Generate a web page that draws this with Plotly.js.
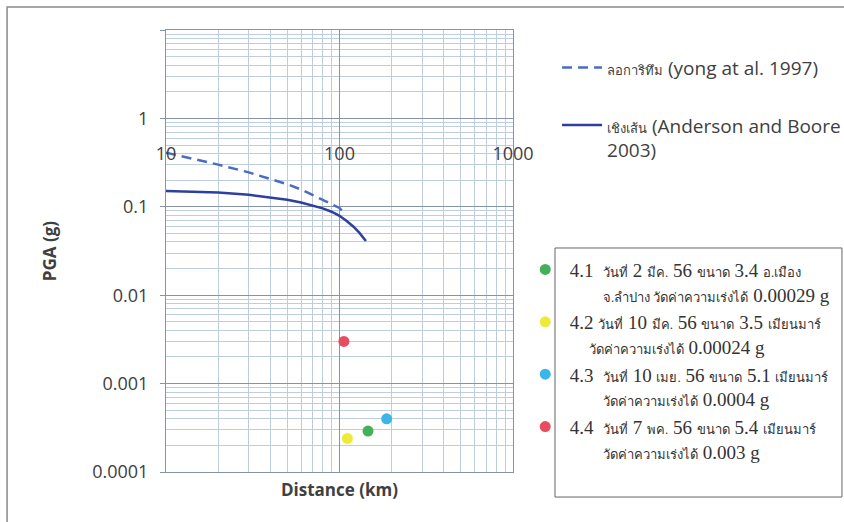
<!DOCTYPE html>
<html>
<head>
<meta charset="utf-8">
<script src="https://cdn.plot.ly/plotly-3.0.1.min.js"></script>
<style>html,body{margin:0;padding:0;background:#fff;}</style>
</head>
<body>
<div id="chart" style="width:844px;height:522px;"></div>
<script>
// Logarithmic model (Yong et al. 1997)
const logDist = [10, 15, 20, 30, 40, 50, 60, 70, 80, 90, 100, 105];
const logPGA  = [0.41, 0.345, 0.30, 0.245, 0.205, 0.18, 0.157, 0.137, 0.12, 0.107, 0.097, 0.088];
// Linear model (Anderson and Boore 2003)
const linDist = [10, 15, 20, 30, 40, 50, 60, 70, 80, 90, 100, 110, 120, 130, 142];
const linPGA  = [0.151, 0.148, 0.145, 0.137, 0.128, 0.120, 0.112, 0.104, 0.096, 0.088, 0.079, 0.069, 0.060, 0.051, 0.041];
// Recorded events
const eventNames = [
  "4.1&nbsp;&nbsp;วันที่ 2 มีค. 56 ขนาด 3.4 อ.เมือง<br>&nbsp;&nbsp;&nbsp;&nbsp;&nbsp;&nbsp;&nbsp;จ.ลำปาง วัดค่าความเร่งได้ 0.00029 g",
  "4.2 วันที่ 10 มีค. 56 ขนาด 3.5 เมียนมาร์<br>&nbsp;&nbsp;&nbsp;&nbsp;วัดค่าความเร่งได้ 0.00024 g",
  "4.3&nbsp;&nbsp;วันที่ 10 เมย. 56 ขนาด 5.1 เมียนมาร์<br>&nbsp;&nbsp;&nbsp;&nbsp;&nbsp;&nbsp;&nbsp;วัดค่าความเร่งได้ 0.0004 g",
  "4.4&nbsp;&nbsp;วันที่ 7 พค. 56 ขนาด 5.4 เมียนมาร์<br>&nbsp;&nbsp;&nbsp;&nbsp;&nbsp;&nbsp;&nbsp;วัดค่าความเร่งได้ 0.003 g"
];
const eventDist = [146, 111, 187, 106];
const eventPGA  = [0.00029, 0.00024, 0.0004, 0.003];
const eventColors = ["#45b05a", "#eeea3a", "#3bb6e6", "#e64e60"];
// Axis ticks
const xTicks = [10, 100, 1000];
const xTickText = ["10", "100", "1000"];
const yTicks = [0.0001, 0.001, 0.01, 0.1, 1, 10];
const yTickText = ["0.0001", "0.001", "0.01", "0.1", "1", ""];

// render Thai runs smaller than the Latin text, as in the source
function thaiSmall(s, px) {
  return s.replace(/([\u0E00-\u0E7F][\u0E00-\u0E7F .]*[\u0E00-\u0E7F.]|[\u0E00-\u0E7F])/g,
    "<span style='font-size:" + px + "px'>$1</span>");
}

const traces = [
  {
    x: logDist, y: logPGA, mode: "lines", type: "scatter",
    name: thaiSmall("ลอการิทึม", 13) + " (yong at al. 1997)",
    line: {color: "#4a6cc2", width: 2.5, dash: "10px,6px"},
    legend: "legend", legendgroup: "a"
  },
  {
    x: linDist, y: linPGA, mode: "lines", type: "scatter",
    name: thaiSmall("เชิงเส้น", 13) + " (Anderson and Boore<br>2003)",
    line: {color: "#2f3f9e", width: 2.5},
    legend: "legend", legendgroup: "b"
  }
];
for (let i = 0; i < eventNames.length; i++) {
  traces.push({
    x: [eventDist[i]], y: [eventPGA[i]], mode: "markers", type: "scatter",
    name: thaiSmall(eventNames[i], 13),
    marker: {color: eventColors[i], size: 11},
    legend: "legend2", xaxis: "x2", yaxis: "y"
  });
}

const majorGrid = "#8794a8";
const minorGrid = "#bfcde0";

const layout = {
  width: 844, height: 522,
  margin: {l: 166, r: 331, t: 30, b: 50, autoexpand: false},
  paper_bgcolor: "#ffffff", plot_bgcolor: "#ffffff",
  font: {family: "Open Sans, sans-serif", color: "#404040"},
  showlegend: true,
  xaxis: {
    type: "log", range: [1, 3],
    tickmode: "array", tickvals: xTicks, showticklabels: false, ticks: "",
    showgrid: true, gridcolor: majorGrid, gridwidth: 1,
    minor: {dtick: "D1", showgrid: true, gridcolor: minorGrid, gridwidth: 1, ticks: ""},
    showline: true, mirror: true, linecolor: majorGrid, linewidth: 1,
    zeroline: false,
    title: {text: "<b>Distance (km)</b>", font: {size: 17, color: "#404040"}, standoff: 12}
  },
  xaxis2: {
    type: "log", range: [1, 3], overlaying: "x", anchor: "free", position: 0.75,
    tickmode: "array", tickvals: xTicks, ticktext: xTickText,
    tickfont: {size: 18, color: "#404040"},
    showgrid: false, showline: false, ticks: "", zeroline: false
  },
  yaxis: {
    type: "log", range: [-4, 1],
    tickmode: "array", tickvals: yTicks, ticktext: yTickText,
    tickfont: {size: 18, color: "#404040"},
    ticks: "outside", ticklen: 5, tickcolor: majorGrid, ticklabelstandoff: 8,
    showgrid: true, gridcolor: majorGrid, gridwidth: 1,
    minor: {dtick: "D1", showgrid: true, gridcolor: minorGrid, gridwidth: 1, ticks: ""},
    showline: true, mirror: true, linecolor: majorGrid, linewidth: 1,
    zeroline: false,
    title: {text: "<b>PGA (g)</b>", font: {size: 17, color: "#404040"}, standoff: 31}
  },
  legend: {
    xref: "container", yref: "container",
    x: 0.66, y: 0.907, xanchor: "left", yanchor: "top",
    font: {family: "Open Sans, sans-serif", size: 19, color: "#404040"},
    bgcolor: "rgba(0,0,0,0)", itemwidth: 40, tracegroupgap: 30, traceorder: "grouped",
    valign: "top"
  },
  legend2: {
    xref: "container", yref: "container",
    x: 0.617, y: 0.52, xanchor: "left", yanchor: "top",
    font: {family: "Liberation Serif, serif", size: 19, color: "#333333"},
    bgcolor: "rgba(0,0,0,0)", itemwidth: 39, valign: "top"
  },
  shapes: [
    {type: "rect", xref: "paper", yref: "paper", x0: 1.121, x1: 1.948, y0: -0.0566, y1: 0.5068,
     line: {color: "#666666", width: 1}, fillcolor: "rgba(0,0,0,0)", layer: "below"},
    {type: "rect", xref: "paper", yref: "paper", x0: -0.458, x1: 2.05, y0: -0.2, y1: 1.052,
     line: {color: "#8a8a8a", width: 1.5}, fillcolor: "rgba(0,0,0,0)", layer: "below"}
  ]
};

Plotly.newPlot("chart", traces, layout, {displayModeBar: false, staticPlot: true});
</script>
</body>
</html>
